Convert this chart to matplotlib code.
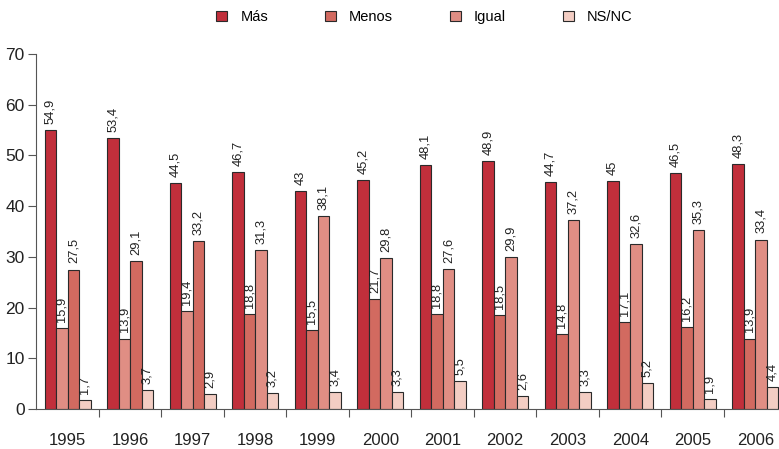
import matplotlib
matplotlib.use("Agg")
import matplotlib.pyplot as plt
import numpy as np

plt.rcParams['font.family'] = ['Liberation Sans', 'DejaVu Sans']

years = ["1995", "1996", "1997", "1998", "1999", "2000",
         "2001", "2002", "2003", "2004", "2005", "2006"]
mas = [54.9, 53.4, 44.5, 46.7, 43, 45.2, 48.1, 48.9, 44.7, 45, 46.5, 48.3]
menos = [15.9, 13.9, 19.4, 18.8, 15.5, 21.7, 18.8, 18.5, 14.8, 17.1, 16.2, 13.9]
igual = [27.5, 29.1, 33.2, 31.3, 38.1, 29.8, 27.6, 29.9, 37.2, 32.6, 35.3, 33.4]
nsnc = [1.7, 3.7, 2.9, 3.2, 3.4, 3.3, 5.5, 2.6, 3.3, 5.2, 1.9, 4.4]

series = [("Más", mas), ("Menos", menos), ("Igual", igual), ("NS/NC", nsnc)]
colors = ["#c12f3b", "#d26a60", "#e08e84", "#f3cdc3"]
# in the source the 2nd and 3rd bar colours are swapped for these groups
swapped = ["1995", "1996", "1997"]

fig = plt.figure(figsize=(7.79, 4.49), dpi=100)
ax = fig.add_axes([0.046, 0.089, 0.954, 0.791])

x = np.arange(len(years))
w = 0.184
for k, (name, vals) in enumerate(series):
    pos = x + (k - 1.5) * w
    cols = []
    for y in years:
        c = k
        if y in swapped and k in (1, 2):
            c = 3 - k
        cols.append(colors[c])
    ax.bar(pos, vals, width=w, color=cols, edgecolor="#2a2a2a",
           linewidth=0.8, label=name, zorder=2)
    for p, v in zip(pos, vals):
        ax.text(p, v + 1.2, "{:g}".format(v).replace(".", ","),
                rotation=90, ha="center", va="bottom", fontsize=9.3,
                color="#222222")

ax.set_xlim(-0.51, 11.38)
ax.set_ylim(0, 70)
ax.set_yticks(range(0, 71, 10))
ax.tick_params(axis="y", labelsize=12.5, length=6, width=0.8,
               color="#555555", labelcolor="#222222", pad=2)

ax.set_xticks(x)
ax.set_xticklabels(years)
ax.tick_params(axis="x", which="major", length=0, labelsize=12, pad=17,
               labelcolor="#222222")
ax.set_xticks(x[:-1] + 0.5, minor=True)
ax.tick_params(axis="x", which="minor", length=6, width=0.8,
               color="#555555")

for s in ["top", "right"]:
    ax.spines[s].set_visible(False)
for s in ["left", "bottom"]:
    ax.spines[s].set_color("#555555")
    ax.spines[s].set_linewidth(0.8)

handles, labels = ax.get_legend_handles_labels()
handles = [plt.Rectangle((0, 0), 1, 1, facecolor=c, edgecolor="#2a2a2a",
                         linewidth=0.8) for c in colors]
fig.legend(handles, labels, loc="center", bbox_to_anchor=(0.545, 0.962),
           ncol=4, frameon=False, fontsize=10.5, handlelength=0.75,
           handleheight=0.75, handletextpad=0.9, columnspacing=3.9)

fig.savefig("out.png", dpi=100)
